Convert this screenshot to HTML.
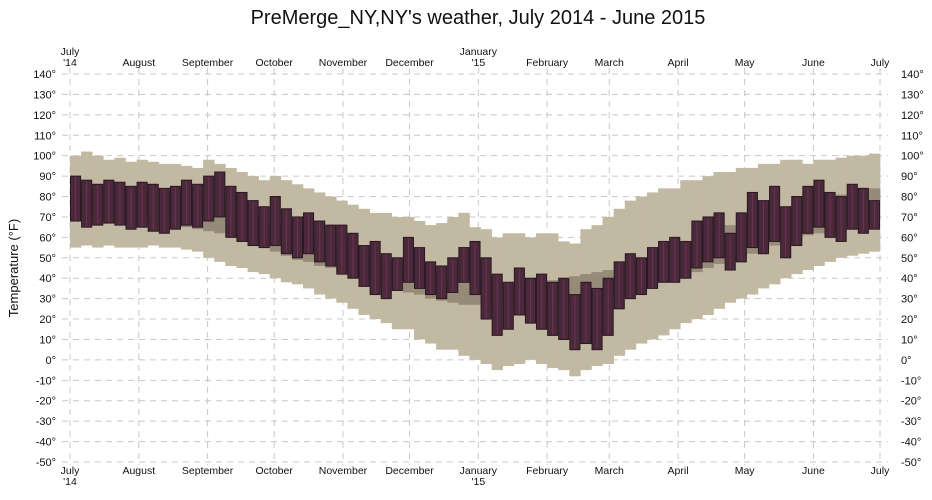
<!DOCTYPE html>
<html><head><meta charset="utf-8"><style>
body{margin:0;background:#fff;font-family:"Liberation Sans",sans-serif}
svg text{font-family:"Liberation Sans",sans-serif}
</style></head><body>
<svg id="chart" width="932" height="495" xmlns="http://www.w3.org/2000/svg">
<text x="478" y="24" font-size="20" text-anchor="middle" fill="#111">PreMerge_NY,NY's weather, July 2014 - June 2015</text>
<text transform="translate(18,268) rotate(-90)" font-size="13" text-anchor="middle" fill="#111">Temperature (°F)</text>
<g id="grid"></g><g id="marks"></g><g id="labels"></g>
</svg>
<script>
const months = ["July|'14","August","September","October","November","December","January|'15","February","March","April","May","June","July"];
const monthDays = [0,31,62,92,123,153,184,215,243,274,304,335,365];
const yTicks = [140,130,120,110,100,90,80,70,60,50,40,30,20,10,0,-10,-20,-30,-40,-50];
const recordHigh = [100,102,100,98,99,97, 98,97,96,96,95,94, 98,96,94,92,90,88, 90,88,86,84,82,80, 78,76,74,72,72,70, 70,68,66,67,70,72, 65,64,60,62,62,60, 62,62,58,57,64,66, 70,74,78,80,82,84, 84,88,88,90,92,92, 94,94,96,96,98,98, 96,98,98,99,100,100,101];
const recordLow = [55,56,55,56,55,55, 55,56,55,55,54,53, 50,48,46,45,43,42, 40,38,37,35,32,30, 28,25,22,20,18,15, 15,10,8,5,5,2, 0,-2,-5,-3,-2,0, -2,-4,-5,-8,-5,-3, -2,2,5,8,10,12, 15,18,20,22,25,28, 30,32,35,37,40,42, 44,46,48,50,51,52,53];
const normalHigh = [84,85,85,85,84,84, 83,83,82,81,80,79, 78,76,74,72,71,69, 67,65,63,61,59,57, 56,54,52,50,48,46, 45,43,41,40,39,38, 38,37,37,37,37,38, 38,39,40,41,42,43, 44,46,48,50,52,54, 56,58,60,62,64,66, 68,70,71,73,75,76, 78,79,80,81,82,83,84];
const normalLow = [68,69,69,69,69,69, 68,68,67,66,65,64, 63,62,60,58,56,55, 53,51,49,48,46,45, 43,41,40,38,36,35, 33,32,30,29,28,27, 27,26,26,26,26,26, 26,27,27,28,28,29, 30,31,33,34,36,38, 40,41,43,45,47,48, 50,52,54,56,57,59, 61,62,64,65,66,67,68];
const actualHigh = [90,88,86,88,87,85, 87,86,84,85,88,86, 90,92,85,82,78,75, 80,74,70,72,68,66, 66,62,56,58,52,50, 60,55,48,46,50,55, 58,50,42,38,45,40, 42,38,40,32,38,35, 40,48,52,50,55,58, 60,58,68,70,72,62, 72,82,78,85,75,80, 85,88,82,80,86,84,78];
const actualLow = [68,65,66,67,66,64, 65,63,62,64,66,65, 68,70,60,58,56,55, 56,52,50,52,48,46, 42,40,36,32,30,34, 38,35,32,30,33,38, 32,20,12,15,22,18, 15,12,10,5,8,5, 12,25,30,32,35,38, 38,40,45,48,50,44, 48,55,52,58,50,56, 62,65,60,58,64,62,64];

const X0=70, X1=880, Y140=74, Yn50=462;
const xDay = d => X0 + d*(X1-X0)/365;
const yT = t => Y140 + (140-t)*(Yn50-Y140)/190;
const binDays = 5;
const NS="http://www.w3.org/2000/svg";
function mk(tag, attrs, parent){const e=document.createElementNS(NS,tag);for(const k in attrs)e.setAttribute(k,attrs[k]);parent.appendChild(e);return e;}
const grid=document.getElementById('grid'), marks=document.getElementById('marks'), labels=document.getElementById('labels');

yTicks.forEach(t=>{
  const l=mk('line',{x1:62,x2:888,y1:yT(t),y2:yT(t),stroke:'#c8c8c8','stroke-dasharray':'6,5','stroke-width':1},grid);
  
  
  const a=mk('text',{x:56,y:yT(t)+4,'font-size':11,'text-anchor':'end',fill:'#111'},labels);
  a.textContent=t+'°';
  
  
  const b=mk('text',{x:901,y:yT(t)+4,'font-size':11,'text-anchor':'start',fill:'#111'},labels);
  b.textContent=t+'°';
  
  
});
months.forEach((m,i)=>{
  const x=xDay(monthDays[i]);
  const l=mk('line',{x1:x,x2:x,y1:68,y2:465,stroke:'#c8c8c8','stroke-dasharray':'6,5','stroke-width':1},grid);
  
  
  const parts=m.split('|');
  [[parts.length>1?55:66,'x-tick-label-top'],[474,'x-tick-label-bottom']].forEach(([y,nm])=>{
    const t=mk('text',{x:x,y:y,'font-size':10.5,'text-anchor':'middle',fill:'#111'},labels);
    
    
    parts.forEach((p,j)=>{const s=mk('tspan',{x:x,dy:j?11:0},t);s.textContent=p;});
  });
});
const bw=binDays*(X1-X0)/365;
recordHigh.forEach((v,i)=>{
  const x=xDay(i*binDays);
  const r=mk('rect',{x:x,y:yT(v),width:bw+0.3,height:yT(recordLow[i])-yT(v),fill:'#c2b9a2'},marks);
  
  
});
normalHigh.forEach((v,i)=>{
  const x=xDay(i*binDays);
  const r=mk('rect',{x:x,y:yT(v),width:bw+0.3,height:yT(normalLow[i])-yT(v),fill:'#958b78'},marks);
  
  
});
actualHigh.forEach((v,i)=>{
  const x=xDay(i*binDays);
  const r=mk('rect',{x:x+0.5,y:yT(v),width:bw-1,height:yT(actualLow[i])-yT(v),fill:'#4a2a3a',stroke:'#2a1822','stroke-width':1},marks);
  
  
  const c=mk('line',{x1:x+bw/2,x2:x+bw/2,y1:yT(v)+1,y2:yT(actualLow[i])-1,stroke:'#6e3352','stroke-width':1},marks);
  
  
});
</script>
</body></html>
